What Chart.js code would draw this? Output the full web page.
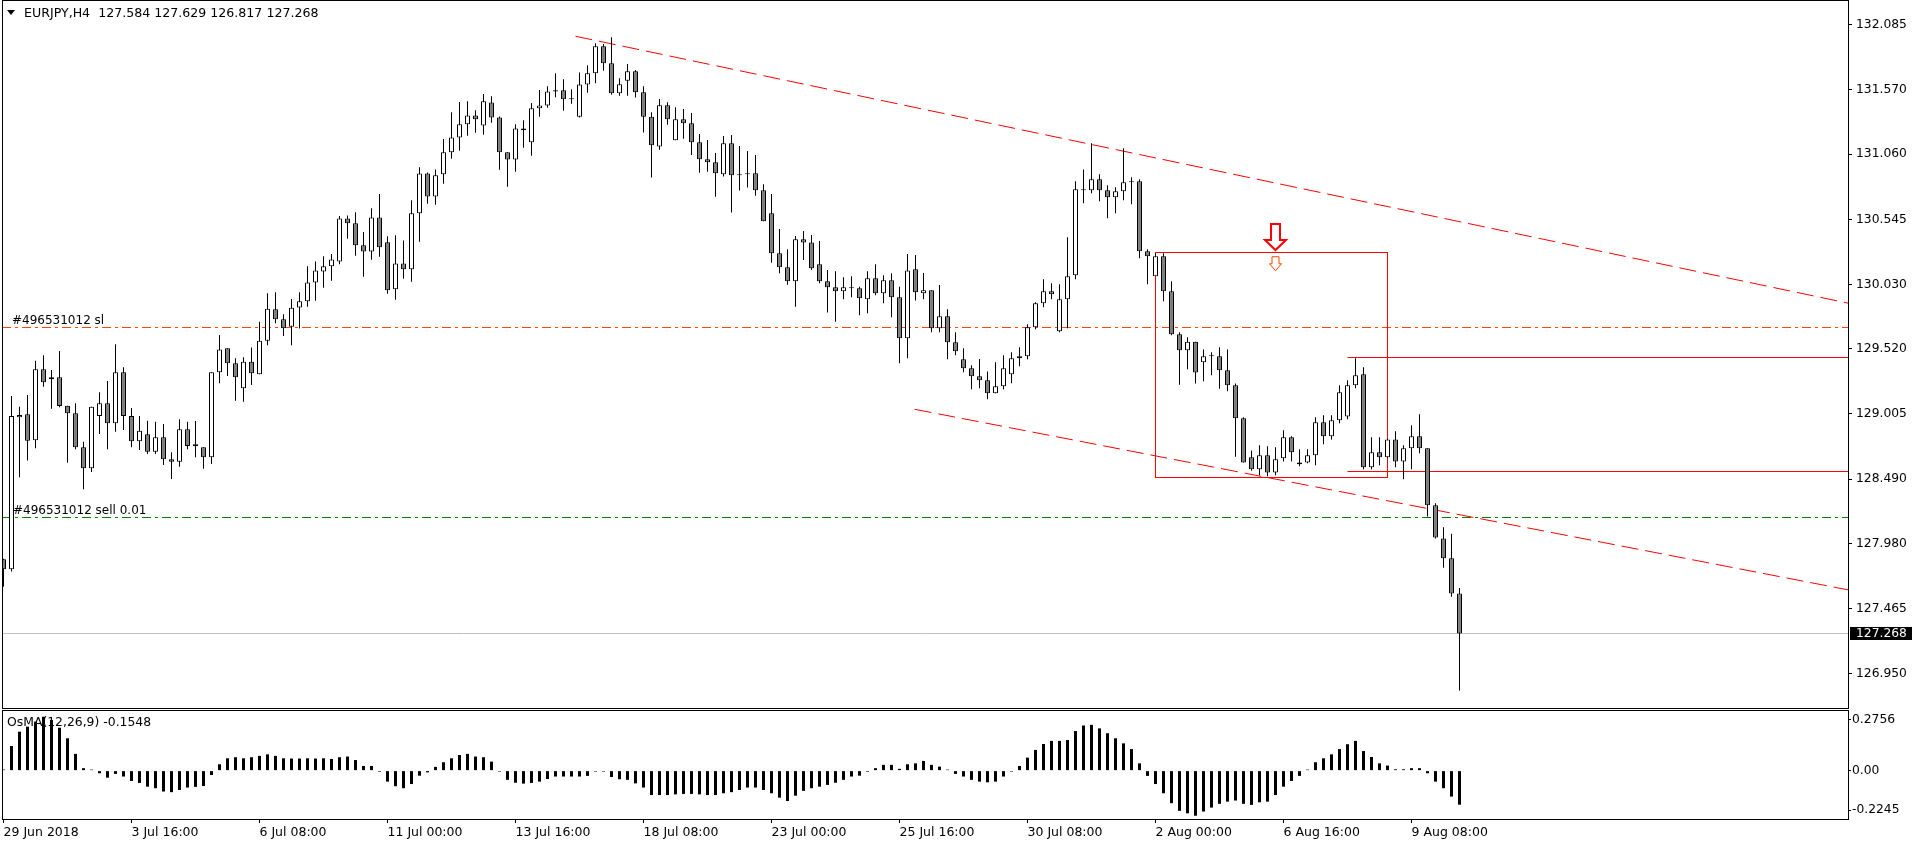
<!DOCTYPE html>
<html>
<head>
<meta charset="utf-8">
<title>EURJPY,H4</title>
<script src="https://cdn.jsdelivr.net/npm/chart.js@4.4.1/dist/chart.umd.min.js"></script>
<style>
body { margin: 0; background: #fff; }
#wrap { position: relative; width: 1916px; height: 847px; background: #fff; overflow: hidden; }
canvas { position: absolute; left: 0; }
</style>
</head>
<body>
<div id="wrap">
<canvas id="priceChart" width="1916" height="709" style="top:0px"></canvas>
<canvas id="osmaChart" width="1916" height="137" style="top:710px"></canvas>
</div>
<script>
var symbol = "EURJPY,H4";

// H4 candles, bar 0 = 29 Jun 2018 00:00
var opens = [
    127.855, 127.776, 128.979, 129.002, 128.797, 129.358, 129.279, 129.295, 129.071, 129.010,
    128.741, 128.575, 128.989, 129.089, 128.931, 129.335, 128.989, 128.789, 128.844, 128.707,
    128.820, 128.646, 128.628, 128.884, 128.765, 128.741, 128.662, 129.335, 129.524, 129.406,
    129.208, 129.419, 129.319, 129.585, 129.833, 129.754, 129.696, 129.848, 129.896, 130.046,
    130.133, 130.173, 130.212, 130.552, 130.513, 130.339, 130.291, 130.560, 130.363, 129.991,
    130.196, 130.149, 130.592, 130.908, 130.726, 130.901, 131.075, 131.193, 131.296, 131.367,
    131.288, 131.470, 131.351, 131.075, 131.019, 131.264, 131.154, 131.423, 131.446, 131.565,
    131.565, 131.494, 131.357, 131.612, 131.700, 131.914, 131.779, 131.542, 131.642, 131.716,
    131.550, 131.357, 131.120, 131.447, 131.170, 131.336, 131.305, 131.154, 131.020, 130.996,
    130.901, 131.146, 130.901, 130.909, 130.909, 130.775, 130.593, 130.276, 130.165, 130.055,
    130.387, 130.361, 130.189, 130.055, 130.007, 129.975, 130.007, 129.999, 129.912, 130.078,
    129.960, 130.063, 129.928, 129.604, 130.149, 129.960, 129.983, 129.683, 129.778, 129.572,
    129.437, 129.366, 129.303, 129.271, 129.168, 129.224, 129.319, 129.445, 129.461, 129.691,
    129.880, 129.975, 129.659, 129.912, 130.102, 130.782, 130.774, 130.861, 130.774, 130.719,
    130.766, 130.846, 130.846, 130.292, 130.094, 130.252, 129.975, 129.635, 129.509, 129.577,
    129.414, 129.461, 129.461, 129.350, 129.232, 128.971, 128.662, 128.567, 128.678, 128.543,
    128.654, 128.820, 128.607, 128.622, 128.678, 128.939, 128.828, 128.955, 128.986, 129.232,
    129.319, 128.583, 128.702, 128.662, 128.804, 128.630, 128.733, 128.828, 128.733, 128.282,
    128.019, 127.863, 127.584
];
var highs = [
    127.860, 129.147, 129.063, 129.155, 129.427, 129.469, 129.353, 129.503, 129.071, 129.089,
    128.786, 129.063, 129.176, 129.266, 129.556, 129.374, 129.052, 128.989, 128.952, 128.944,
    128.926, 128.702, 128.963, 128.944, 128.950, 128.741, 129.335, 129.630, 129.524, 129.445,
    129.453, 129.530, 129.735, 129.960, 129.967, 129.793, 129.915, 129.967, 130.173, 130.212,
    130.252, 130.270, 130.571, 130.576, 130.600, 130.444, 130.632, 130.745, 130.410, 130.418,
    130.378, 130.695, 130.956, 130.916, 130.940, 131.180, 131.391, 131.473, 131.478, 131.407,
    131.536, 131.518, 131.359, 131.075, 131.296, 131.328, 131.465, 131.568, 131.597, 131.700,
    131.652, 131.573, 131.707, 131.763, 131.937, 131.932, 131.985, 131.661, 131.774, 131.726,
    131.597, 131.392, 131.497, 131.471, 131.431, 131.418, 131.386, 131.220, 131.173, 131.070,
    131.204, 131.212, 131.125, 131.086, 131.054, 130.822, 130.745, 130.469, 130.308, 130.413,
    130.453, 130.421, 130.374, 130.144, 130.134, 130.086, 130.094, 130.012, 130.134, 130.189,
    130.102, 130.118, 130.012, 130.271, 130.263, 130.120, 129.983, 130.025, 129.833, 129.651,
    129.524, 129.390, 129.440, 129.342, 129.414, 129.469, 129.493, 129.532, 129.714, 129.888,
    130.070, 130.039, 130.031, 130.403, 130.846, 130.940, 131.146, 130.901, 130.814, 130.798,
    131.107, 130.877, 130.861, 130.308, 130.276, 130.276, 130.055, 129.651, 129.611, 129.577,
    129.516, 129.493, 129.532, 129.516, 129.247, 128.979, 128.717, 128.757, 128.749, 128.741,
    128.876, 128.828, 128.725, 128.725, 128.979, 128.994, 128.994, 129.232, 129.271, 129.445,
    129.374, 128.820, 128.820, 128.812, 128.868, 128.757, 128.915, 129.002, 128.733, 128.298,
    128.108, 128.058, 127.629
];
var lows = [
    127.639, 127.758, 128.504, 128.636, 128.733, 129.221, 129.047, 129.058, 128.620, 128.725,
    128.409, 128.546, 128.847, 128.725, 128.865, 128.878, 128.741, 128.720, 128.689, 128.689,
    128.601, 128.491, 128.588, 128.725, 128.662, 128.572, 128.609, 129.248, 129.306, 129.110,
    129.102, 129.234, 129.319, 129.548, 129.722, 129.622, 129.548, 129.682, 129.854, 129.901,
    130.004, 130.059, 130.189, 130.392, 130.257, 130.091, 130.225, 130.249, 129.956, 129.909,
    130.075, 130.051, 130.368, 130.668, 130.661, 130.827, 131.024, 131.088, 131.206, 131.230,
    131.214, 131.309, 130.937, 130.803, 130.922, 131.111, 131.048, 131.357, 131.428, 131.510,
    131.404, 131.460, 131.351, 131.547, 131.621, 131.721, 131.531, 131.523, 131.523, 131.508,
    131.231, 130.875, 131.096, 131.294, 131.170, 131.183, 131.054, 130.914, 130.922, 130.724,
    130.883, 130.598, 130.772, 130.796, 130.732, 130.529, 130.202, 130.118, 130.028, 129.854,
    130.223, 130.144, 130.039, 129.807, 129.735, 129.912, 129.928, 129.786, 129.802, 129.944,
    129.881, 129.770, 129.406, 129.445, 129.902, 129.912, 129.651, 129.651, 129.437, 129.469,
    129.335, 129.200, 129.208, 129.121, 129.168, 129.200, 129.248, 129.382, 129.437, 129.675,
    129.849, 129.912, 129.651, 129.683, 130.070, 130.672, 130.751, 130.687, 130.553, 130.592,
    130.695, 130.664, 130.236, 130.031, 130.094, 129.896, 129.627, 129.237, 129.358, 129.247,
    129.263, 129.311, 129.205, 129.184, 128.667, 128.622, 128.556, 128.520, 128.512, 128.520,
    128.630, 128.630, 128.591, 128.615, 128.599, 128.765, 128.804, 128.931, 128.963, 129.208,
    128.567, 128.567, 128.599, 128.654, 128.583, 128.488, 128.567, 128.694, 128.193, 128.019,
    127.789, 127.560, 126.817
];
var closes = [
    127.776, 128.989, 128.997, 128.794, 129.358, 129.255, 129.295, 129.068, 129.010, 128.741,
    128.575, 129.063, 129.089, 128.931, 129.335, 128.989, 128.789, 128.873, 128.707, 128.820,
    128.646, 128.628, 128.884, 128.752, 128.749, 128.662, 129.335, 129.516, 129.406, 129.295,
    129.419, 129.327, 129.585, 129.838, 129.754, 129.683, 129.846, 129.896, 130.046, 130.141,
    130.173, 130.228, 130.552, 130.513, 130.339, 130.291, 130.560, 130.323, 129.983, 130.196,
    130.149, 130.592, 130.908, 130.726, 130.893, 131.075, 131.193, 131.296, 131.367, 131.336,
    131.478, 131.351, 131.075, 131.019, 131.264, 131.249, 131.423, 131.446, 131.557, 131.557,
    131.494, 131.497, 131.612, 131.700, 131.914, 131.779, 131.542, 131.613, 131.716, 131.550,
    131.357, 131.131, 131.447, 131.336, 131.336, 131.305, 131.154, 131.020, 130.996, 130.909,
    131.146, 130.893, 130.893, 130.901, 130.775, 130.529, 130.276, 130.165, 130.055, 130.387,
    130.361, 130.157, 130.055, 130.007, 129.975, 130.007, 129.999, 129.920, 130.078, 129.960,
    130.063, 129.928, 129.604, 130.141, 129.967, 129.983, 129.683, 129.778, 129.572, 129.501,
    129.366, 129.303, 129.271, 129.168, 129.224, 129.366, 129.445, 129.461, 129.691, 129.880,
    129.975, 129.952, 129.912, 130.094, 130.782, 130.774, 130.861, 130.774, 130.719, 130.766,
    130.838, 130.838, 130.292, 130.252, 130.252, 129.975, 129.635, 129.509, 129.577, 129.334,
    129.461, 129.464, 129.350, 129.232, 128.971, 128.622, 128.567, 128.678, 128.543, 128.646,
    128.820, 128.702, 128.622, 128.678, 128.939, 128.828, 128.955, 129.176, 129.232, 129.311,
    128.583, 128.702, 128.662, 128.804, 128.630, 128.733, 128.828, 128.733, 128.282, 128.027,
    127.863, 127.584, 127.268
];

// OsMA(12,26,9) histogram, one value per bar
var osma = [
    0.005, 0.112, 0.177, 0.200, 0.223, 0.245, 0.230, 0.195, 0.147, 0.076,
    0.011, 0.001, -0.012, -0.032, -0.015, -0.027, -0.047, -0.056, -0.073, -0.080,
    -0.095, -0.098, -0.088, -0.077, -0.074, -0.070, -0.020, 0.029, 0.056, 0.061,
    0.056, 0.061, 0.067, 0.074, 0.067, 0.056, 0.055, 0.055, 0.056, 0.055,
    0.056, 0.053, 0.061, 0.064, 0.048, 0.021, 0.021, -0.005, -0.050, -0.071,
    -0.080, -0.061, -0.023, -0.008, 0.017, 0.038, 0.056, 0.071, 0.076, 0.064,
    0.061, 0.041, -0.002, -0.042, -0.055, -0.059, -0.056, -0.050, -0.038, -0.027,
    -0.027, -0.027, -0.027, -0.024, -0.003, -0.003, -0.029, -0.039, -0.042, -0.058,
    -0.077, -0.111, -0.111, -0.111, -0.108, -0.106, -0.106, -0.108, -0.111, -0.111,
    -0.103, -0.098, -0.088, -0.077, -0.077, -0.088, -0.103, -0.123, -0.138, -0.114,
    -0.092, -0.080, -0.073, -0.065, -0.055, -0.042, -0.027, -0.023, -0.005, 0.011,
    0.026, 0.026, 0.008, 0.029, 0.033, 0.044, 0.026, 0.018, 0.002, -0.015,
    -0.027, -0.042, -0.050, -0.053, -0.050, -0.027, -0.001, 0.021, 0.059, 0.094,
    0.121, 0.135, 0.135, 0.139, 0.180, 0.205, 0.208, 0.192, 0.170, 0.147,
    0.124, 0.098, 0.033, -0.024, -0.061, -0.103, -0.148, -0.183, -0.194, -0.205,
    -0.186, -0.168, -0.151, -0.141, -0.136, -0.151, -0.156, -0.144, -0.141, -0.111,
    -0.073, -0.047, -0.024, 0.002, 0.038, 0.056, 0.074, 0.098, 0.120, 0.135,
    0.089, 0.062, 0.033, 0.023, 0.006, 0.006, 0.011, 0.011, -0.012, -0.050,
    -0.080, -0.118, -0.1548
];

// axes
var priceTicks = [126.950, 127.465, 127.980, 128.490, 129.005, 129.520, 130.030, 130.545, 131.060, 131.570, 132.085];
var priceRange = [126.679, 132.272];
var barRange = [-0.1875, 230.6875];
var timeTickBars = [0, 16, 32, 48, 64, 80, 96, 112, 128, 144, 160, 176];
var timeLabels = ["29 Jun 2018", "3 Jul 16:00", "6 Jul 08:00", "11 Jul 00:00", "13 Jul 16:00", "18 Jul 08:00",
    "23 Jul 00:00", "25 Jul 16:00", "30 Jul 08:00", "2 Aug 00:00", "6 Aug 16:00", "9 Aug 08:00"];
var osmaRange = [-0.2245, 0.2756];
var osmaTickLabels = ["-0.2245", "0.00", "0.2756"];

// objects on the chart (bar index, price)
var orderId = "#496531012";
var slPrice = 129.691;
var sellPrice = 128.188;
var lastPrice = closes[closes.length - 1];
var trendUpper = [[71.5, 131.993], [230.7, 129.880]];
var trendLower = [[113.9, 129.042], [230.7, 127.612]];
var boxBars = [144, 173];
var boxPrices = [128.506, 130.286];
var levelStartBar = 168;
var levelPrices = [129.453, 128.552];
var arrowBar = 159;
var arrowPrices = [130.302, 130.138];

Chart.defaults.font.family = "DejaVu Sans";
Chart.defaults.color = "#000";

var bodies = [];
var wicks = [];
var osmaBars = [];
for (var i = 0; i < opens.length; i++) {
    bodies.push({ x: i, y: [opens[i], closes[i]] });
    wicks.push({ x: i, y: [lows[i], highs[i]] });
    osmaBars.push({ x: i, y: osma[i] });
}

// keep the plot area exactly where the layout padding puts it
function noAxisPadding(s) {
    s.paddingTop = 0;
    s.paddingBottom = 0;
    s.paddingLeft = 0;
    s.paddingRight = 0;
}

function hLine(ctx, x1, x2, y, color, dash) {
    y = Math.floor(y) + 0.5;
    ctx.strokeStyle = color;
    ctx.lineWidth = 1;
    ctx.setLineDash(dash);
    ctx.beginPath();
    ctx.moveTo(x1, y);
    ctx.lineTo(x2, y);
    ctx.stroke();
}

function downArrow(ctx, cx, tip, headW, headH, shaftW, shaftH, color, lw) {
    var top = tip - headH - shaftH;
    ctx.setLineDash([]);
    ctx.beginPath();
    ctx.moveTo(cx - shaftW / 2, top);
    ctx.lineTo(cx + shaftW / 2, top);
    ctx.lineTo(cx + shaftW / 2, tip - headH);
    ctx.lineTo(cx + headW / 2, tip - headH);
    ctx.lineTo(cx, tip);
    ctx.lineTo(cx - headW / 2, tip - headH);
    ctx.lineTo(cx - shaftW / 2, tip - headH);
    ctx.closePath();
    ctx.fillStyle = "#fff";
    ctx.fill();
    ctx.strokeStyle = color;
    ctx.lineWidth = lw;
    ctx.stroke();
}

var priceOverlay = {
    id: "priceOverlay",
    beforeDatasetsDraw: function (chart) {
        var ctx = chart.ctx, a = chart.chartArea;
        var xs = chart.scales.x, ys = chart.scales.y;
        ctx.save();
        ctx.beginPath();
        ctx.rect(a.left, a.top, a.right - a.left, a.bottom - a.top);
        ctx.clip();

        hLine(ctx, a.left, a.right, ys.getPixelForValue(lastPrice), "#c0c0c0", []);
        hLine(ctx, a.left, a.right, ys.getPixelForValue(slPrice), "#ff4500", [9, 4, 3, 4]);
        hLine(ctx, a.left, a.right, ys.getPixelForValue(sellPrice), "#008000", [9, 4, 3, 4]);

        // channel lines
        ctx.strokeStyle = "#ff0000";
        ctx.lineWidth = 1;
        ctx.setLineDash([17, 7]);
        [trendUpper, trendLower].forEach(function (t) {
            ctx.beginPath();
            ctx.moveTo(xs.getPixelForValue(t[0][0]), ys.getPixelForValue(t[0][1]));
            ctx.lineTo(xs.getPixelForValue(t[1][0]), ys.getPixelForValue(t[1][1]));
            ctx.stroke();
        });

        // rectangle
        var bx1 = Math.floor(xs.getPixelForValue(boxBars[0])) + 0.5;
        var bx2 = Math.floor(xs.getPixelForValue(boxBars[1])) + 0.5;
        var by1 = Math.floor(ys.getPixelForValue(boxPrices[1])) + 0.5;
        var by2 = Math.floor(ys.getPixelForValue(boxPrices[0])) + 0.5;
        ctx.setLineDash([]);
        ctx.strokeStyle = "#ff0000";
        ctx.strokeRect(bx1, by1, bx2 - bx1, by2 - by1);

        levelPrices.forEach(function (p) {
            hLine(ctx, xs.getPixelForValue(levelStartBar), a.right, ys.getPixelForValue(p), "#ff0000", []);
        });
        ctx.restore();
    },
    afterDatasetsDraw: function (chart) {
        var ctx = chart.ctx;
        var xs = chart.scales.x, ys = chart.scales.y;
        ctx.save();
        var ax = xs.getPixelForValue(arrowBar);
        downArrow(ctx, ax, ys.getPixelForValue(arrowPrices[0]), 21, 10, 9, 16, "#ff0000", 2);
        downArrow(ctx, ax, ys.getPixelForValue(arrowPrices[1]), 12, 7, 7, 7, "#ff4500", 1);

        ctx.fillStyle = "#000";
        ctx.font = "12px DejaVu Sans";
        ctx.textAlign = "left";
        ctx.textBaseline = "alphabetic";
        ctx.fillText(orderId + " sl", 12, Math.floor(ys.getPixelForValue(slPrice)) - 3);
        ctx.fillText(orderId + " sell 0.01", 13, Math.floor(ys.getPixelForValue(sellPrice)) - 3);
        ctx.restore();
    },
    afterDraw: function (chart) {
        var ctx = chart.ctx, a = chart.chartArea;
        var ys = chart.scales.y;
        var n = opens.length - 1;
        ctx.save();
        ctx.strokeStyle = "#000";
        ctx.lineWidth = 1;
        ctx.setLineDash([]);
        ctx.strokeRect(a.left + 0.5, a.top - 0.5, a.right - a.left - 1, a.bottom - a.top + 1);

        // header
        ctx.fillStyle = "#000";
        ctx.beginPath();
        ctx.moveTo(7, 10);
        ctx.lineTo(15, 10);
        ctx.lineTo(11, 15);
        ctx.closePath();
        ctx.fill();
        ctx.font = "12.6px DejaVu Sans";
        ctx.textBaseline = "middle";
        ctx.fillText(symbol + "  " + [opens[n], highs[n], lows[n], closes[n]].map(function (v) {
            return v.toFixed(3);
        }).join(" "), 24, 14);

        // last price box on the axis
        var y = Math.floor(ys.getPixelForValue(lastPrice));
        ctx.fillRect(a.right + 1, y - 6, 62, 13);
        ctx.fillStyle = "#fff";
        ctx.font = "12.3px DejaVu Sans";
        ctx.fillText(lastPrice.toFixed(3), a.right + 7, y + 0.5);
        ctx.restore();
    }
};

var priceChart = new Chart(document.getElementById("priceChart"), {
    type: "bar",
    data: {
        datasets: [
            {
                label: "body",
                data: bodies,
                barThickness: 5,
                borderWidth: 1,
                borderColor: "#000",
                borderSkipped: false,
                minBarLength: 1,
                inflateAmount: 0,
                grouped: false,
                backgroundColor: function (c) {
                    var k = c.dataIndex;
                    return closes[k] >= opens[k] ? "#ffffff" : "#808080";
                },
            },
            {
                label: "wick",
                data: wicks,
                barThickness: 1,
                borderWidth: 0,
                inflateAmount: 0,
                grouped: false,
                backgroundColor: "#000",
            },
        ],
    },
    options: {
        responsive: false,
        animation: false,
        devicePixelRatio: 1,
        events: [],
        layout: { padding: { left: 2, top: 1, bottom: 1, right: 0 } },
        plugins: { legend: { display: false }, tooltip: { enabled: false } },
        scales: {
            x: {
                type: "linear",
                display: false,
                offset: false,
                min: barRange[0],
                max: barRange[1],
            },
            y: {
                type: "linear",
                position: "right",
                min: priceRange[0],
                max: priceRange[1],
                border: { display: false },
                grid: { drawOnChartArea: false, drawTicks: true, tickLength: 3, color: "#000" },
                ticks: {
                    padding: 4,
                    font: { size: 12.3 },
                    color: "#000",
                    callback: function (v, idx) {
                        return priceTicks[idx].toFixed(3);
                    },
                },
                afterBuildTicks: function (s) {
                    s.ticks = priceTicks.map(function (v) { return { value: v }; });
                },
                afterFit: function (s) {
                    s.width = 67;
                    noAxisPadding(s);
                },
            },
        },
    },
    plugins: [priceOverlay],
});

var osmaOverlay = {
    id: "osmaOverlay",
    afterDraw: function (chart) {
        var ctx = chart.ctx, a = chart.chartArea;
        ctx.save();
        ctx.strokeStyle = "#000";
        ctx.lineWidth = 1;
        ctx.strokeRect(a.left + 0.5, a.top + 0.5, a.right - a.left - 1, a.bottom - a.top - 1);
        ctx.fillStyle = "#000";
        ctx.font = "12.4px DejaVu Sans";
        ctx.textBaseline = "middle";
        ctx.textAlign = "left";
        ctx.fillText("OsMA(12,26,9) " + osma[osma.length - 1].toFixed(4), 7, a.top + 13);
        ctx.restore();
    }
};

var osmaChart = new Chart(document.getElementById("osmaChart"), {
    type: "bar",
    data: {
        datasets: [
            {
                label: "OsMA",
                data: osmaBars,
                barThickness: 3,
                borderWidth: 0,
                minBarLength: 1,
                inflateAmount: 0,
                backgroundColor: "#000",
            },
        ],
    },
    options: {
        responsive: false,
        animation: false,
        devicePixelRatio: 1,
        events: [],
        layout: { padding: { left: 2, top: 0, bottom: 0, right: 0 } },
        plugins: { legend: { display: false }, tooltip: { enabled: false } },
        scales: {
            x: {
                type: "linear",
                offset: false,
                min: barRange[0],
                max: barRange[1],
                border: { display: false },
                grid: { drawOnChartArea: false, drawTicks: true, tickLength: 3, color: "#000", offset: false },
                ticks: {
                    autoSkip: false,
                    maxRotation: 0,
                    align: "start",
                    padding: 2,
                    font: { size: 12.5 },
                    color: "#000",
                    callback: function (v, idx) {
                        return timeLabels[idx];
                    },
                },
                afterBuildTicks: function (s) {
                    s.ticks = timeTickBars.map(function (v) { return { value: v }; });
                },
                afterFit: function (s) {
                    s.height = 27;
                    noAxisPadding(s);
                },
            },
            y: {
                type: "linear",
                position: "right",
                min: osmaRange[0],
                max: osmaRange[1],
                border: { display: false },
                grid: { drawOnChartArea: false, drawTicks: true, tickLength: 2, color: "#000" },
                ticks: {
                    padding: 1,
                    font: { size: 12.3 },
                    color: "#000",
                    callback: function (v, idx) {
                        return osmaTickLabels[idx];
                    },
                },
                afterBuildTicks: function (s) {
                    // top and bottom labels sit just inside the panel
                    var inset = (s.max - s.min) * 0.09;
                    s.ticks = [{ value: s.min + inset }, { value: 0 }, { value: s.max - inset }];
                },
                afterFit: function (s) {
                    s.width = 67;
                    noAxisPadding(s);
                },
            },
        },
    },
    plugins: [osmaOverlay],
});
</script>
</body>
</html>
